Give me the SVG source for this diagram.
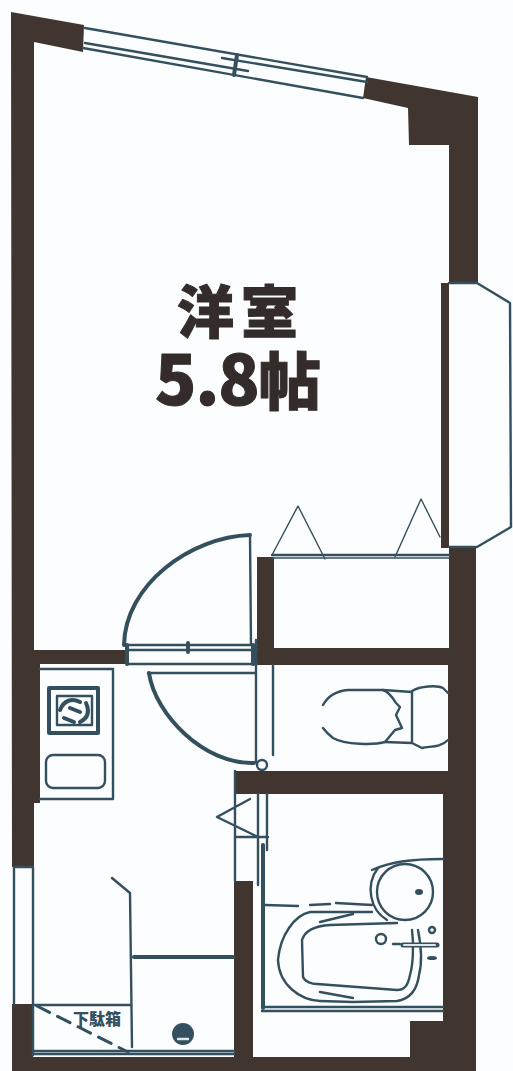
<svg xmlns="http://www.w3.org/2000/svg" width="513" height="1071" viewBox="0 0 513 1071">
<style>
.w{fill:#40362f}
.l{fill:none;stroke:#34505f;stroke-width:2.4;stroke-linecap:round;stroke-linejoin:round}
.t{stroke-width:4}
.m{stroke-width:1.4}
.d{fill:#34505f}
.j{font-family:"Noto Sans CJK JP",sans-serif;font-weight:900;fill:#332c2b;stroke:#332c2b;stroke-width:1}
</style>
<rect width="513" height="1071" fill="#fcfdfe"/>
<g id="walls">
<polygon class="w" points="11,12 84,25 83,52 34,42 34,650 125,650 125,664 40,664 40,803 34,803 34,867 12,867"/>
<polygon class="w" points="12,1004 33,1004 33,1057 234,1057 234,881 253,881 253,1057 410,1057 410,1021 443,1021 443,794 236,794 236,771 448,771 448,665 257,665 257,557 274,557 274,648 449,648 449,547 476,547 476,1071 12,1071"/>
<polygon class="w" points="366,77 478,97 478,284 449,284 449,145 409,145 408,108 363,98"/>
<rect class="w" x="441" y="283" width="8" height="265"/>
</g>
<g id="top-window" class="l">
<path d="M85,28L367,77M85,43L248,71M83,48L363,98M222,58L367,82"/>
<path class="t" d="M237,55L234,75"/>
</g>
<g id="bay-window" class="l">
<path d="M449,283L477,283L510,303L511,527L477,547L449,547"/>
</g>
<g id="closet" class="l">
<path class="m" d="M272,558L449,558"/>
<path d="M272,555L449,555"/>
<path class="m" d="M272,555L298,506L325,559M395,557L421,499L440,537"/>
</g>
<g id="doors" class="l">
<path class="t" d="M250,535C190,537 125,585 124,645M149,673C155,715 205,765 254,763"/>
<path d="M250,535L251,645M148,673L256,673M127,645L257,645M127,650L257,650M127,664L257,664M256,640L256,762M273,665L273,755"/>
<path class="t" d="M188,643L188,652M127,645L127,664M253,645L253,664"/>
<circle cx="262" cy="765" r="5"/>
</g>
<g id="kitchen" class="l">
<path d="M40,669L113,669L113,799L40,799"/>
<rect class="t" x="49" y="688" width="49" height="45"/>
<rect x="57" y="696" width="35" height="29"/>
<path class="t" d="M60,710C64,700 72,698 80,702M86,703C90,712 88,718 80,722M64,718L74,722M70,708L80,712"/>
<rect x="46" y="755" width="59" height="33" rx="7"/>
</g>
<g id="entry" class="l">
<path d="M112,878L130,893L132,1047"/>
<path class="t" d="M134,957L233,957"/>
<path d="M33,867L33,1055M14,867L33,867M14,867L14,1004M33,1005L131,1005M33,1051L234,1051M33,1054L234,1054"/>
<path stroke-width="3" stroke-dasharray="14 9" d="M37,1006L128,1052"/>
<text x="73" y="1025" font-size="16" class="j" style="stroke-width:0;fill:#34505f">下駄箱</text>
<circle class="d" cx="183" cy="1034" r="11" stroke="none"/>
<path d="M178,1039L188,1039" stroke="#dfe6ea"/>
</g>
<g id="bath-door" class="l">
<path d="M235,771L235,881M217,817L250,799M217,817L258,837M235,837L268,837M258,794L258,885M267,794L267,850"/>
<path class="t" d="M263,845L263,1008"/>
</g>
<g id="toilet" class="l">
<path d="M323,705C328,696 337,691 348,690L383,690C389,692 393,698 396,703L400,707L396,715L402,728L395,730L385,742C375,745 345,745 333,738C329,735 326,732 323,728"/>
<path d="M412,691L412,743M383,690L412,692M385,742L412,743M412,691C420,686 437,685 443,688L448,693M412,743L422,748C430,746 440,748 448,740"/>
</g>
<g id="bath" class="l">
<path d="M265,905L298,906M310,905L330,904M336,903L372,905M262,1007L443,1007M262,1011L443,1011"/>
<path d="M372,912L310,912C295,915 280,935 278,960C279,985 300,1000 320,1001L353,1002L397,1001C410,999 417,990 419,975C423,960 421,945 418,930"/>
<path d="M397,923L330,925C315,926 305,930 302,940L303,977C305,982 312,984 317,984L397,990C405,990 408,985 410,975C413,965 414,945 412,930"/>
<path d="M320,922L353,914M320,992L353,998"/>
<circle cx="405" cy="892" r="28"/>
<path d="M372,870C390,862 410,859 443,859M378,868C365,885 370,910 387,920"/>
<circle cx="381" cy="939" r="5"/>
<path d="M393,944L400,944"/>
<path stroke-width="5" d="M403,945L437,945"/>
<path stroke="#dfe6ea" stroke-width="2" d="M404,945L435,945"/>
<ellipse class="d" cx="419" cy="892" rx="4" ry="3" stroke="none"/>
<circle cx="432" cy="930" r="3"/>
<ellipse class="d" cx="432" cy="958" rx="5" ry="2" stroke="none"/>
</g>
<g id="labels">
<text class="j" x="177" y="333" font-size="57" letter-spacing="7">洋室</text>
<text class="j" x="155" y="405" letter-spacing="-1"><tspan font-size="68">5.8</tspan><tspan font-size="62">帖</tspan></text>
</g>
</svg>
